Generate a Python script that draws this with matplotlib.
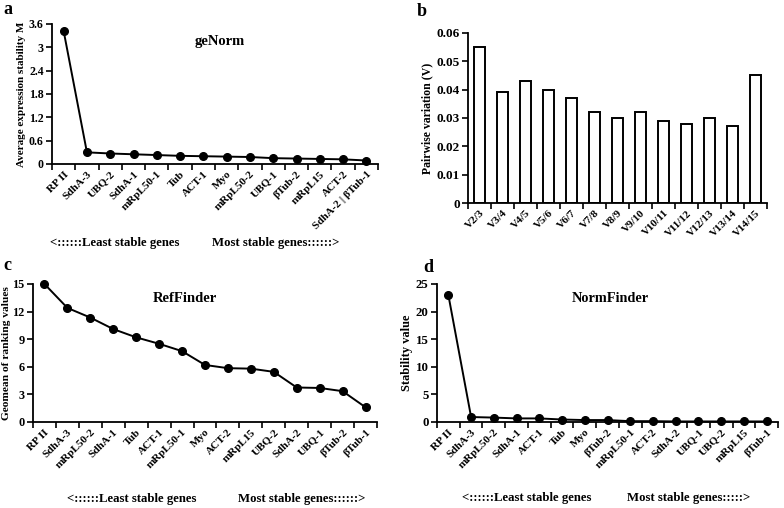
import matplotlib
matplotlib.use("Agg")
import matplotlib.pyplot as plt
import numpy as np

plt.rcParams['font.family'] = ['Liberation Serif', 'DejaVu Serif']
plt.rcParams['font.weight'] = 'bold'

# ---- data ----
genorm_genes = ["RP II", "SdhA-3", "UBQ-2", "SdhA-1", "mRpL50-1", "Tub", "ACT-1", "Myo",
                "mRpL50-2", "UBQ-1", "βTub-2", "mRpL15", "ACT-2", "SdhA-2 | βTub-1"]
genorm_m = [3.42, 0.30, 0.27, 0.25, 0.23, 0.21, 0.20, 0.19, 0.18, 0.15, 0.14, 0.13, 0.12, 0.09]

pair_labels = ["V2/3", "V3/4", "V4/5", "V5/6", "V6/7", "V7/8", "V8/9", "V9/10",
               "V10/11", "V11/12", "V12/13", "V13/14", "V14/15"]
pair_v = [0.055, 0.039, 0.043, 0.040, 0.037, 0.032, 0.030, 0.032, 0.029, 0.028, 0.030, 0.027, 0.045]

ref_genes = ["RP II", "SdhA-3", "mRpL50-2", "SdhA-1", "Tub", "ACT-1", "mRpL50-1", "Myo",
             "ACT-2", "mRpL15", "UBQ-2", "SdhA-2", "UBQ-1", "βTub-2", "βTub-1"]
ref_vals = [15.0, 12.4, 11.35, 10.1, 9.2, 8.5, 7.7, 6.2, 5.85, 5.8, 5.45, 3.75, 3.7, 3.35, 1.6]

nf_genes = ["RP II", "SdhA-3", "mRpL50-2", "SdhA-1", "ACT-1", "Tub", "Myo", "βTub-2",
            "mRpL50-1", "ACT-2", "SdhA-2", "UBQ-1", "UBQ-2", "mRpL15", "βTub-1"]
nf_vals = [23.0, 0.9, 0.8, 0.65, 0.65, 0.45, 0.35, 0.35, 0.15, 0.15, 0.1, 0.1, 0.1, 0.1, 0.1]

W, H = 784, 508
fig = plt.figure(figsize=(W / 100, H / 100), dpi=100)


def px_axes(left, right, top, bottom):
    return fig.add_axes([left / W, 1 - bottom / H, (right - left) / W, (bottom - top) / H])


def style(ax, labels, yticks, ylabel, fs_x=8, fs_y=8.5, fs_lab=8, labelpad=2):
    n = len(labels)
    for s in ("top", "right"):
        ax.spines[s].set_visible(False)
    for s in ("left", "bottom"):
        ax.spines[s].set_linewidth(1.3)
    ax.set_xlim(-0.5, n - 0.5)
    ax.set_xticks(np.arange(n))
    ax.set_xticklabels(labels, rotation=45, ha='right', rotation_mode='anchor',
                       fontsize=fs_x, fontweight='bold')
    ax.tick_params(axis='x', which='major', length=0, pad=4)
    ax.set_xticks(np.arange(n + 1) - 0.5, minor=True)
    ax.tick_params(axis='x', which='minor', length=4, width=1.2, direction='out')
    ax.set_yticks(yticks)
    ax.set_ylim(yticks[0], yticks[-1])
    ax.tick_params(axis='y', length=4, width=1.2, direction='out', labelsize=fs_y, pad=2)
    for t in ax.get_yticklabels():
        t.set_fontweight('bold')
    ax.set_ylabel(ylabel, fontsize=fs_lab, fontweight='bold', labelpad=labelpad)


def line_panel(ax, vals):
    ax.plot(np.arange(len(vals)), vals, color='black', lw=1.4, marker='o', ms=5.5,
            clip_on=False, zorder=3)


# Panel a
axa = px_axes(52, 378, 24, 164)
line_panel(axa, genorm_m)
style(axa, genorm_genes, [0, 0.6, 1.2, 1.8, 2.4, 3, 3.6], "Average expression stability M",
      fs_x=8, fs_y=8.6, fs_lab=8)
axa.set_yticklabels(["0", "0.6", "1.2", "1.8", "2.4", "3", "3.6"])
fig.text(220 / W, 1 - 42 / H, "geNorm", fontsize=10.5, fontweight='bold', ha='center', va='center')

# Panel b
axb = px_axes(468, 767, 33, 203)
axb.bar(np.arange(len(pair_v)), pair_v, width=0.45, color='white', edgecolor='black', lw=1.4)
style(axb, pair_labels, [0, 0.01, 0.02, 0.03, 0.04, 0.05, 0.06], "Pairwise variation (V)",
      fs_x=8, fs_y=9.5, fs_lab=8.5)
axb.set_yticklabels(["0", "0.01", "0.02", "0.03", "0.04", "0.05", "0.06"])

# Panel c
axc = px_axes(33, 377, 284, 422)
line_panel(axc, ref_vals)
style(axc, ref_genes, [0, 3, 6, 9, 12, 15], "Geomean of ranking values",
      fs_x=8, fs_y=8.8, fs_lab=8.2, labelpad=1)
fig.text(185 / W, 1 - 299 / H, "RefFinder", fontsize=10.5, fontweight='bold', ha='center', va='center')

# Panel d
axd = px_axes(437, 778, 284, 422)
line_panel(axd, nf_vals)
style(axd, nf_genes, [0, 5, 10, 15, 20, 25], "Stability value",
      fs_x=8, fs_y=9.3, fs_lab=8.9)
fig.text(610 / W, 1 - 299 / H, "NormFinder", fontsize=10.3, fontweight='bold', ha='center', va='center')

# panel letters
for x, y, s in [(3, 10, "a"), (417, 12, "b"), (3, 266, "c"), (423, 268, "d")]:
    fig.text(x / W, 1 - y / H, s, fontsize=13, fontweight='bold', ha='left', va='center')

# bottom annotations
for xl, y in [(50, 243), (67, 499), (462, 498)]:
    fig.text(xl / W, 1 - y / H, "<::::::Least stable genes", fontsize=9.2, fontweight='bold',
             ha='left', va='center')
fig.text(212 / W, 1 - 243 / H, "Most stable genes::::::>", fontsize=9.2, fontweight='bold', ha='left', va='center')
fig.text(238 / W, 1 - 499 / H, "Most stable genes::::::>", fontsize=9.2, fontweight='bold', ha='left', va='center')
fig.text(627 / W, 1 - 498 / H, "Most stable genes:::::>", fontsize=9.2, fontweight='bold', ha='left', va='center')

fig.savefig("out.png", dpi=100, facecolor='white')
